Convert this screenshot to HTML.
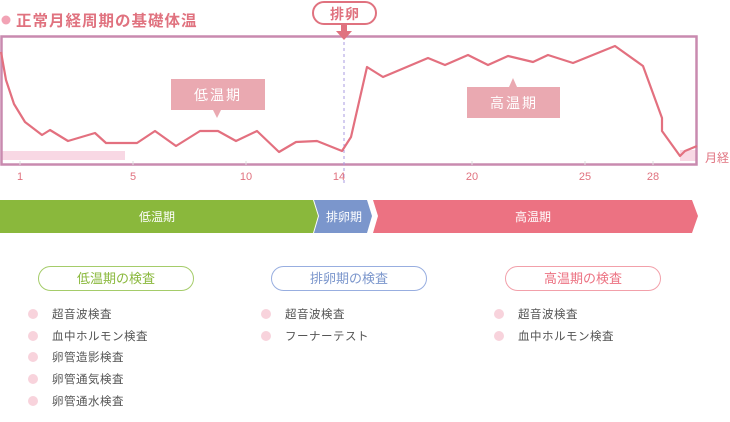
<!DOCTYPE html>
<html><head><meta charset="utf-8"><style>
body{margin:0;width:730px;height:422px;background:#fff;position:relative;overflow:hidden;font-family:"Liberation Sans","Noto Sans CJK JP",sans-serif}
.a{position:absolute}
.pill{position:absolute;top:266px;width:154px;height:23px;border-radius:13px;border:1.5px solid;text-align:center;line-height:23px;font-size:13px;background:#fff}
.li{position:absolute;font-size:11.5px;color:#555;letter-spacing:0.5px}
.li:before{content:"";position:absolute;left:-24px;top:3px;width:10px;height:10px;border-radius:50%;background:#f8d3dc}
</style></head><body>
<svg class="a" style="left:0;top:0" width="730" height="250">
<circle cx="6" cy="20" r="4.5" fill="#f2a3b5"/>
<text x="16" y="26" font-size="15.5" font-weight="bold" fill="#e0727f" letter-spacing="1" font-family="Liberation Sans,Noto Sans CJK JP,sans-serif">正常月経周期の基礎体温</text>
<rect x="2" y="151" width="123" height="9" fill="#f8d8e4"/>
<rect x="680" y="150" width="17" height="11" fill="#f8d8e4"/>
<rect x="1.5" y="36.5" width="695" height="128" fill="none" stroke="#c98aaf" stroke-width="2.5"/>
<line x1="344" y1="36" x2="344" y2="185" stroke="#a99be0" stroke-width="1" stroke-dasharray="3,3"/>
<g stroke="#ddd" stroke-width="1"><line x1="20" y1="161" x2="20" y2="165"/><line x1="133" y1="161" x2="133" y2="165"/><line x1="246" y1="161" x2="246" y2="165"/><line x1="472" y1="161" x2="472" y2="165"/><line x1="585" y1="161" x2="585" y2="165"/><line x1="653" y1="161" x2="653" y2="165"/></g>
<polyline fill="none" stroke="#e3707f" stroke-width="2.2" stroke-linejoin="round" points="1,52 6,80 14,104 25,122 42,135 50,130 68,141 95,133 106,143 137,143 155,131 176,146 200,131 218,131 236,141 257,131 279,152 296,142 317,141 342,151 351,137 367,67 383,77 428,58 445,65 468,55 488,65 508,56 533,62 548,55 573,63 615,46 643,66 662,118 662,131 680,156 685,151 697,146"/>
<g font-size="11" fill="#e0727f" text-anchor="middle" font-family="Liberation Sans,sans-serif"><text x="20" y="180">1</text><text x="133" y="180">5</text><text x="246" y="180">10</text><text x="339" y="180">14</text><text x="472" y="180">20</text><text x="585" y="180">25</text><text x="653" y="180">28</text></g>
<text x="705" y="162" font-size="12" fill="#e0727f" font-family="Noto Sans CJK JP,sans-serif">月経</text>
<rect x="171" y="79" width="94" height="31" fill="#eaa9b1"/><polygon points="213,110 221,110 217,118" fill="#eaa9b1"/>
<text x="218" y="100" font-size="14" fill="#fff" text-anchor="middle" letter-spacing="2" font-family="Noto Sans CJK JP,sans-serif">低温期</text>
<rect x="467" y="87" width="93" height="31" fill="#eaa9b1"/><polygon points="509,87 517,87 513,78" fill="#eaa9b1"/>
<text x="514" y="108" font-size="14" fill="#fff" text-anchor="middle" letter-spacing="2" font-family="Noto Sans CJK JP,sans-serif">高温期</text>
<rect x="313" y="2" width="63" height="22" rx="11" fill="#fff" stroke="#e0727f" stroke-width="2"/>
<text x="345" y="19" font-size="14" font-weight="bold" fill="#e0727f" text-anchor="middle" letter-spacing="1" font-family="Noto Sans CJK JP,sans-serif">排卵</text>
<rect x="341" y="24" width="6" height="8" fill="#e0727f"/><polygon points="336,31 352,31 344,40" fill="#e0727f"/>
<polygon points="0,200 313,200 318,216 313,233 0,233" fill="#8ab83c"/>
<polygon points="314,200 367,200 372,216 367,233 314,233 319,216" fill="#7b96cc"/>
<polygon points="373,200 692,200 698,216 692,233 373,233 378,216" fill="#ec7282"/>
<g font-size="12" fill="#fff" text-anchor="middle" font-family="Noto Sans CJK JP,sans-serif"><text x="157" y="221">低温期</text><text x="344" y="221">排卵期</text><text x="533" y="221">高温期</text></g>
<line x1="232.5" y1="250" x2="232.5" y2="422" stroke="#aaa" stroke-dasharray="2,2"/>
<line x1="467.5" y1="250" x2="467.5" y2="422" stroke="#aaa" stroke-dasharray="2,2"/>
</svg>
<div class="pill" style="left:38px;border-color:#a5cc6a;color:#8ab83c">低温期の検査</div>
<div class="pill" style="left:271px;border-color:#98aee0;color:#7b96cc">排卵期の検査</div>
<div class="pill" style="left:505px;border-color:#f2a0aa;color:#ec7282">高温期の検査</div>
<div class="li" style="left:52px;top:306px">超音波検査</div>
<div class="li" style="left:52px;top:328px">血中ホルモン検査</div>
<div class="li" style="left:52px;top:349px">卵管造影検査</div>
<div class="li" style="left:52px;top:371px">卵管通気検査</div>
<div class="li" style="left:52px;top:393px">卵管通水検査</div>
<div class="li" style="left:285px;top:306px">超音波検査</div>
<div class="li" style="left:285px;top:328px">フーナーテスト</div>
<div class="li" style="left:518px;top:306px">超音波検査</div>
<div class="li" style="left:518px;top:328px">血中ホルモン検査</div>
</body></html>
